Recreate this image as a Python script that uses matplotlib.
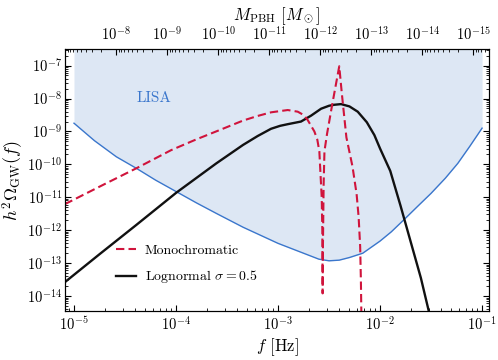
import numpy as np
import matplotlib
matplotlib.use('Agg')
import matplotlib.pyplot as plt

plt.rcParams['font.family'] = 'cmr10'
plt.rcParams['mathtext.fontset'] = 'cm'
plt.rcParams['axes.formatter.use_mathtext'] = True
plt.rcParams['axes.unicode_minus'] = False

# log10 values
lisa_logf = [-5.0, -4.8, -4.585, -4.389, -4.2, -3.997, -3.8, -3.605, -3.343, -3.0,
             -2.8, -2.6, -2.5, -2.4, -2.3, -2.17, -2.0, -1.89, -1.762, -1.63,
             -1.5, -1.36, -1.238, -1.12, -1.0]
lisa_logh = [-8.75, -9.28, -9.77, -10.12, -10.48, -10.83, -11.17, -11.49, -11.91, -12.40,
             -12.64, -12.88, -12.93, -12.91, -12.83, -12.70, -12.33, -12.05, -11.67, -11.27,
             -10.88, -10.42, -9.97, -9.45, -8.90]

mono_logf = [-5.09, -4.7, -4.389, -4.049, -3.8, -3.55, -3.343, -3.2, -3.069, -2.905,
             -2.807, -2.75, -2.71, -2.644, -2.615, -2.595, -2.585, -2.572, -2.566, -2.563,
             -2.560, -2.553, -2.545, -2.52, -2.47, -2.40, -2.375, -2.33, -2.27, -2.23,
             -2.21, -2.195, -2.188, -2.183]
mono_logh = [-11.21, -10.60, -10.12, -9.57, -9.24, -8.93, -8.67, -8.53, -8.42, -8.35,
             -8.40, -8.50, -8.65, -9.00, -9.25, -9.61, -10.22, -11.00, -12.00, -13.92,
             -12.50, -10.60, -9.60, -9.08, -8.20, -7.02, -7.84, -9.18, -10.07, -10.90,
             -11.60, -12.50, -13.50, -14.60]

logn_logf = [-5.09, -4.75, -4.389, -3.997, -3.605, -3.343, -3.2, -3.069, -2.98, -2.905,
             -2.775, -2.676, -2.578, -2.50, -2.448, -2.382, -2.30, -2.219, -2.13, -2.056,
             -2.0, -1.9, -1.8, -1.7, -1.6, -1.5]
logn_logh = [-13.58, -12.73, -11.84, -10.86, -9.97, -9.41, -9.14, -8.92, -8.83, -8.78,
             -8.70, -8.52, -8.31, -8.22, -8.19, -8.17, -8.24, -8.40, -8.72, -9.11,
             -9.52, -10.20, -11.25, -12.35, -13.45, -14.75]

mass_ticks = [1e-8, 1e-9, 1e-10, 1e-11, 1e-12, 1e-13, 1e-14, 1e-15]

f0 = 10**-2.585   # frequency where M_PBH = 1e-12 Msun


def f_to_m(f):
    return 1e-12 * (f / f0)**-2


fig = plt.figure(figsize=(4.98, 3.6), dpi=100)
ax = fig.add_axes([0.1305, 0.136, 0.8515, 0.728])

lisa_f = 10**np.array(lisa_logf)
lisa_h = 10**np.array(lisa_logh)
ax.fill_between(lisa_f, lisa_h, 1e-5, color='#dde7f4', lw=0, zorder=0)
ax.plot(lisa_f, lisa_h, color='#3a76cc', lw=1.0, zorder=1)
ax.plot(10**np.array(mono_logf), 10**np.array(mono_logh), '--', color='#d0143c',
        lw=1.5, dashes=(4, 2), label='Monochromatic', zorder=3)
ax.plot(10**np.array(logn_logf), 10**np.array(logn_logh), '-', color='#111111',
        lw=1.7, label=r'Lognormal $\sigma = 0.5$', zorder=2)

ax.text(6.1e-5, 1.05e-8, 'LISA', color='#3a76cc', fontsize=11, ha='center', va='center')

ax.set_xscale('log')
ax.set_yscale('log')
xlim = (8.16e-6, 0.117)
ax.set_xlim(xlim)
ax.set_ylim(3.5e-15, 3.2e-7)
ax.set_xlabel(r'$f$ [Hz]', fontsize=12)
ax.set_ylabel(r'$h^2\Omega_{\rm GW}(f)$', fontsize=13)
ax.xaxis.set_label_coords(0.5, -0.095)
ax.yaxis.set_label_coords(-0.092, 0.5)

ax.yaxis.set_major_locator(matplotlib.ticker.LogLocator(base=10, numticks=20))
ax.yaxis.set_minor_locator(matplotlib.ticker.LogLocator(base=10, subs=np.arange(2, 10), numticks=20))
ax.yaxis.set_minor_formatter(matplotlib.ticker.NullFormatter())
ax.tick_params(which='both', direction='in', labelsize=10.5)
ax.tick_params(axis='y', which='both', right=True, pad=2)
ax.tick_params(which='major', length=4)
ax.tick_params(which='minor', length=2)

top = ax.twiny()
top.set_xscale('log')
top.set_xlim(f_to_m(xlim[0]), f_to_m(xlim[1]))
top.xaxis.set_major_locator(matplotlib.ticker.FixedLocator(mass_ticks))
top.xaxis.set_minor_locator(matplotlib.ticker.LogLocator(base=10, subs=np.arange(2, 10), numticks=20))
top.xaxis.set_minor_formatter(matplotlib.ticker.NullFormatter())
top.tick_params(which='both', direction='in', labelsize=10.5)
top.tick_params(which='major', length=4)
top.tick_params(which='minor', length=2)
top.set_xlabel(r'$M_{\rm PBH}$ $[M_\odot]$', fontsize=12)

ax.legend(loc='lower left', bbox_to_anchor=(0.09, 0.05), frameon=False, fontsize=10,
          handlelength=1.5, handletextpad=0.6, labelspacing=0.8)

fig.savefig('out.png', dpi=100)
